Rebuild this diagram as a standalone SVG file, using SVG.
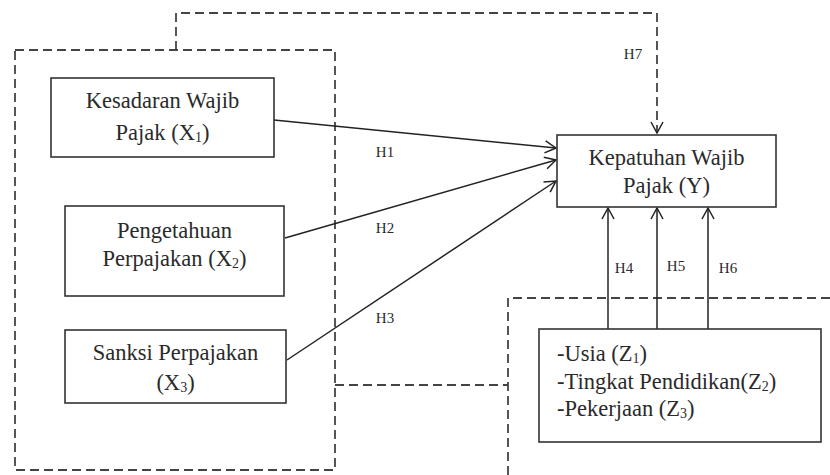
<svg xmlns="http://www.w3.org/2000/svg" width="830" height="475" viewBox="0 0 830 475">
<defs>
<style>
.box{fill:#fff;stroke:#333;stroke-width:1.6}
.dash{fill:none;stroke:#444;stroke-width:1.8;stroke-dasharray:9 5}
.line{fill:none;stroke:#222;stroke-width:1.5}
.t{font-family:"Liberation Serif","Times New Roman",serif;font-size:22.5px;fill:#2a2a2a}
.h{font-family:"Liberation Serif","Times New Roman",serif;font-size:15px;fill:#2a2a2a}
</style>
<marker id="arr" markerWidth="14" markerHeight="14" refX="12" refY="7" orient="auto" markerUnits="userSpaceOnUse">
<path d="M1,1 L12,7 L1,13" fill="none" stroke="#222" stroke-width="1.5"/>
</marker>
</defs>
<rect width="830" height="475" fill="#fff"/>
<g id="groups">
<path class="dash" d="M15,50 H335 V470 H15 Z"/>
<path class="dash" d="M508,475 V298 H830"/>
</g>
<g id="connectors">
<path class="dash" d="M176,50 V13 H657 V133" marker-end="url(#arr)"/>
<path class="dash" d="M335,385 H508"/>
<path class="line" d="M274,120 L556,148" marker-end="url(#arr)"/>
<path class="line" d="M285,238 L556,160" marker-end="url(#arr)"/>
<path class="line" d="M287,360 L556,181" marker-end="url(#arr)"/>
<path class="line" d="M608,329 V208" marker-end="url(#arr)"/>
<path class="line" d="M657,329 V208" marker-end="url(#arr)"/>
<path class="line" d="M708,329 V208" marker-end="url(#arr)"/>
<text class="h" x="385" y="157" text-anchor="middle">H1</text>
<text class="h" x="385" y="233" text-anchor="middle">H2</text>
<text class="h" x="385" y="323" text-anchor="middle">H3</text>
<text class="h" x="633" y="59" text-anchor="middle">H7</text>
<text class="h" x="624" y="273" text-anchor="middle">H4</text>
<text class="h" x="676" y="271" text-anchor="middle">H5</text>
<text class="h" x="728" y="273" text-anchor="middle">H6</text>
</g>
<g id="x1">
<rect class="box" x="51" y="78" width="223" height="79"/>
<text class="t" x="162.5" y="108" text-anchor="middle">Kesadaran Wajib</text>
<text class="t" x="162.5" y="140" text-anchor="middle">Pajak (X<tspan font-size="14" dy="2">1</tspan><tspan dy="-2">)</tspan></text>
</g>
<g id="x2">
<rect class="box" x="65" y="206" width="219" height="90"/>
<text class="t" x="174.5" y="238" text-anchor="middle">Pengetahuan</text>
<text class="t" x="174.5" y="266" text-anchor="middle">Perpajakan (X<tspan font-size="14" dy="2">2</tspan><tspan dy="-2">)</tspan></text>
</g>
<g id="x3">
<rect class="box" x="65" y="330" width="221" height="73"/>
<text class="t" x="175.5" y="360" text-anchor="middle">Sanksi Perpajakan</text>
<text class="t" x="175.5" y="390" text-anchor="middle">(X<tspan font-size="14" dy="2">3</tspan><tspan dy="-2">)</tspan></text>
</g>
<g id="y">
<rect class="box" x="557" y="135" width="219" height="72"/>
<text class="t" x="666.5" y="165" text-anchor="middle">Kepatuhan Wajib</text>
<text class="t" x="666.5" y="193" text-anchor="middle">Pajak (Y)</text>
</g>
<g id="z">
<rect class="box" x="539" y="329" width="282" height="113"/>
<text class="t" x="557" y="361">-Usia (Z<tspan font-size="14" dy="2">1</tspan><tspan dy="-2">)</tspan></text>
<text class="t" x="557" y="389">-Tingkat Pendidikan(Z<tspan font-size="14" dy="2">2</tspan><tspan dy="-2">)</tspan></text>
<text class="t" x="557" y="416">-Pekerjaan (Z<tspan font-size="14" dy="2">3</tspan><tspan dy="-2">)</tspan></text>
</g>
</svg>
